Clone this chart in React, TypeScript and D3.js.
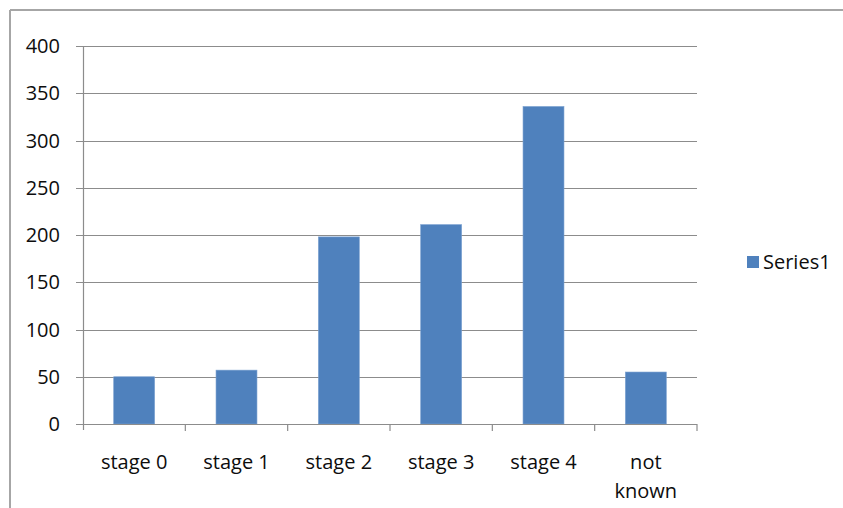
import React from "react";
import * as d3 from "d3";

const categories: string[] = ["stage 0", "stage 1", "stage 2", "stage 3", "stage 4", "not known"];
const series1: number[] = [50, 57, 198, 211, 336, 55];
const yTicks: number[] = [0, 50, 100, 150, 200, 250, 300, 350, 400];
const seriesName = "Series1";

const W = 843;
const H = 508;
const plot = { left: 83, right: 697, top: 46, bottom: 424 };
const FONT = "'Open Sans', sans-serif";
const FS = 20;
const TEXT = "#0d0d0d";
const BAR = "#4F81BD";
const GRID = "#8c8c8c";

export default function App() {
  const x = d3.scaleBand<string>().domain(categories).range([plot.left, plot.right]).paddingInner(0.6).paddingOuter(0.3);
  const xBand = d3.scaleBand<string>().domain(categories).range([plot.left, plot.right]);
  const y = d3.scaleLinear().domain([0, 400]).range([plot.bottom, plot.top]);

  return (
    <div style={{ position: "fixed", left: 0, top: 0 }}>
      <svg width={W} height={H} style={{ display: "block", background: "#fff" }}>
        {/* frame */}
        <line x1={10} y1={10} x2={W} y2={10} stroke="#a6a6a6" strokeWidth={2} />
        <line x1={10} y1={10} x2={10} y2={H} stroke="#a6a6a6" strokeWidth={2} />

        {/* gridlines + y ticks */}
        {yTicks.map((t) => (
          <g key={t}>
            <line x1={plot.left - 7} x2={plot.right} y1={Math.round(y(t)) + 0.5} y2={Math.round(y(t)) + 0.5} stroke={GRID} strokeWidth={1.2} />
            <text x={60} y={y(t)} dy="0.36em" textAnchor="end" fontFamily={FONT} fontSize={FS} fill={TEXT}>
              {t}
            </text>
          </g>
        ))}

        {/* y axis */}
        <line x1={plot.left + 0.5} x2={plot.left + 0.5} y1={plot.top} y2={plot.bottom + 6} stroke={GRID} strokeWidth={1.2} />

        {/* bars */}
        {categories.map((c, i) => (
          <rect key={c} x={x(c)} y={y(series1[i])} width={x.bandwidth()} height={y(0) - y(series1[i])} fill={BAR} stroke="#7aa0d0" strokeWidth={0.6} />
        ))}

        {/* x axis */}
        <line x1={plot.left} x2={plot.right} y1={plot.bottom + 0.5} y2={plot.bottom + 0.5} stroke={GRID} strokeWidth={1.2} />
        {categories.map((c) => (
          <line key={"t" + c} x1={(xBand(c) as number) + xBand.bandwidth()} x2={(xBand(c) as number) + xBand.bandwidth()} y1={plot.bottom} y2={plot.bottom + 7} stroke={GRID} strokeWidth={1.2} />
        ))}

        {/* x labels */}
        {categories.map((c) => {
          const cx = (xBand(c) as number) + xBand.bandwidth() / 2;
          const words = c === "not known" ? ["not", "known"] : [c];
          return (
            <text key={"l" + c} x={cx} y={469} textAnchor="middle" fontFamily={FONT} fontSize={FS} fill={TEXT}>
              {words.map((w, k) => (
                <tspan key={k} x={cx} dy={k === 0 ? 0 : 29}>
                  {w}
                </tspan>
              ))}
            </text>
          );
        })}

        {/* legend */}
        <rect x={747} y={256} width={12} height={12} fill={BAR} />
        <text x={763} y={269} fontFamily={FONT} fontSize={FS} fill={TEXT}>
          {seriesName}
        </text>
      </svg>
    </div>
  );
}
